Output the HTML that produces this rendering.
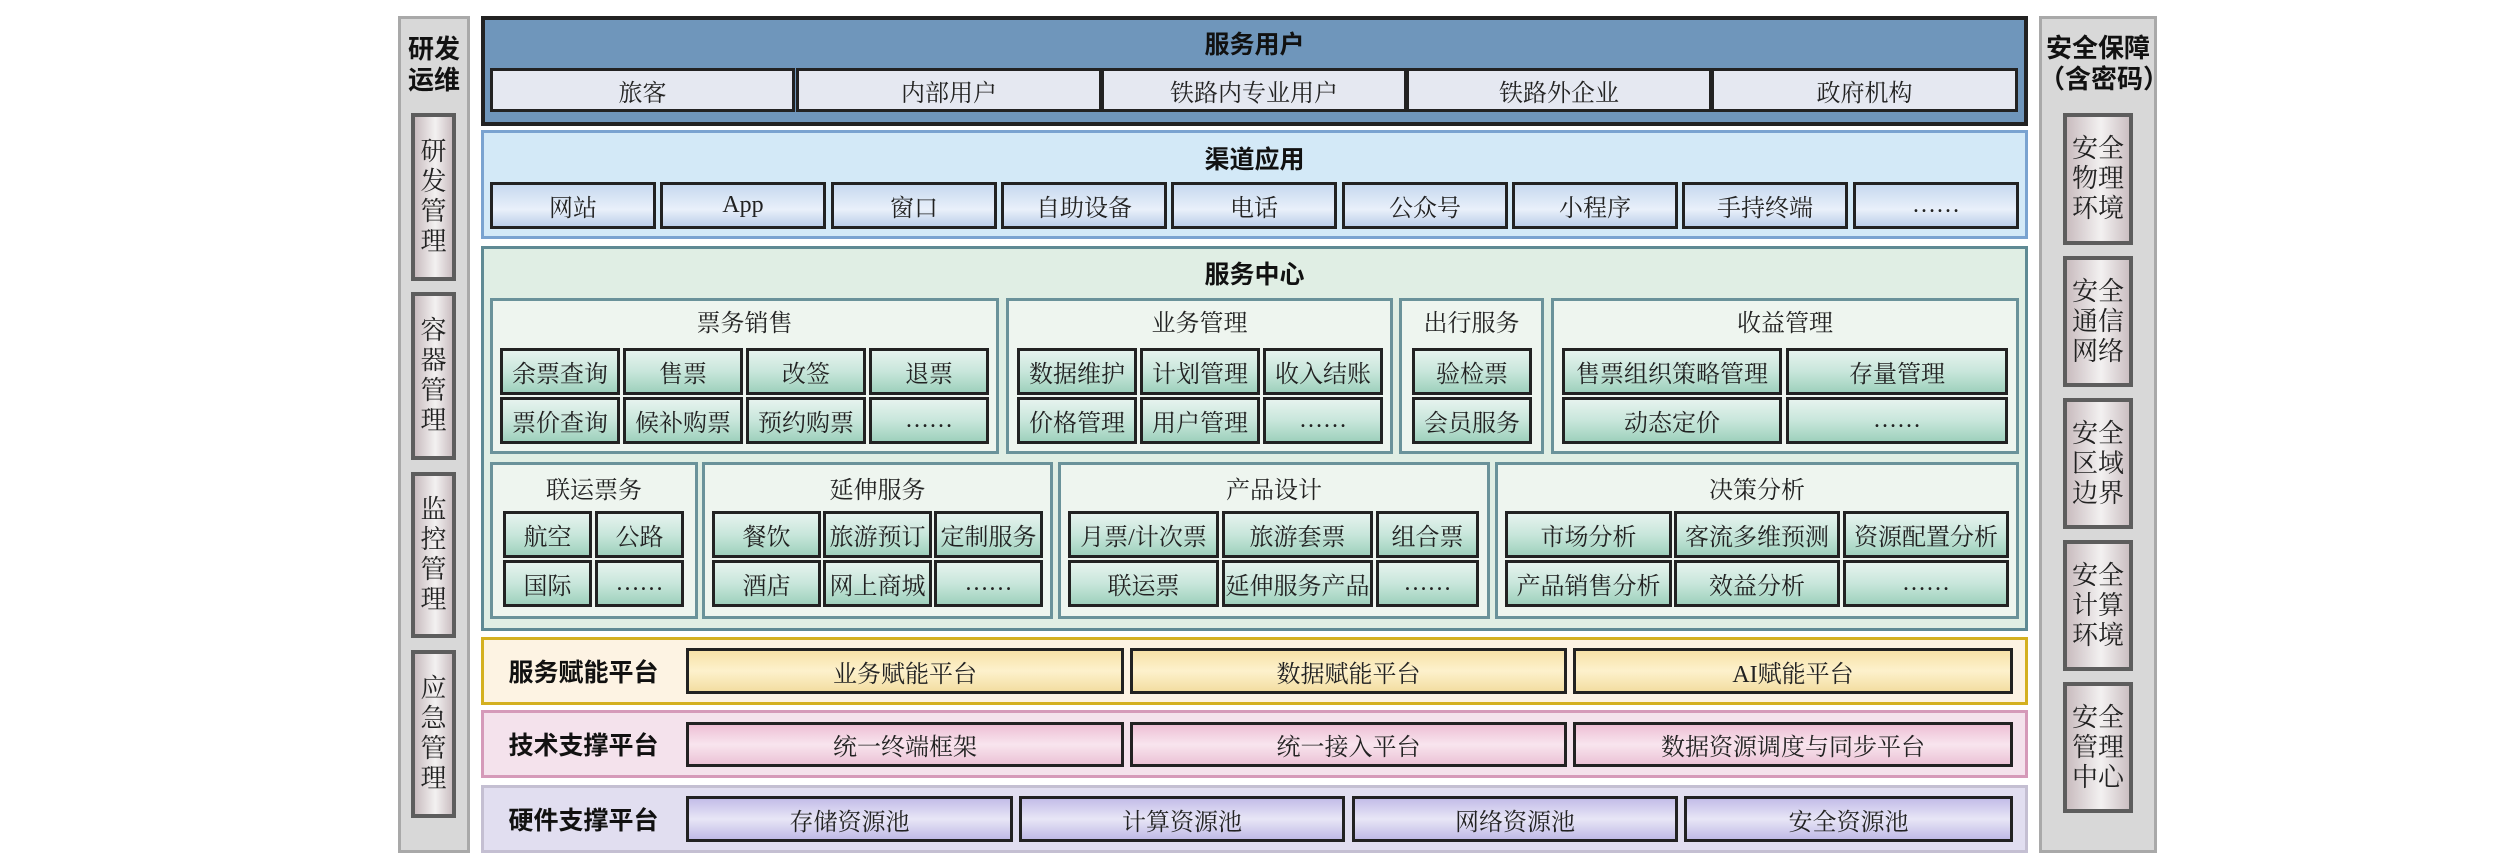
<!DOCTYPE html>
<html><head><meta charset="utf-8"><style>
*{margin:0;padding:0;box-sizing:border-box}
body{width:2520px;height:857px;background:#fff;position:relative;overflow:hidden;font-family:"Liberation Serif","Noto Serif CJK SC",serif;color:#222}
div{position:absolute}
.c{display:flex;align-items:center;justify-content:center;text-align:center;font-size:24px;white-space:nowrap}
.t{font-weight:bold;font-size:25px;font-family:"Liberation Sans","Noto Sans CJK SC",sans-serif;color:#111}
.u{background:#e5e8f1;border:3px solid #222}
.ch{background:linear-gradient(#c7d9ef,#e9f0fa 60%,#bccfea);border:3px solid #222}
.g{background:linear-gradient(#e6f3ee,#c8e6db 50%,#9fd1bd);border:3px solid #222}
.sub{background:#eef5ef;border:3px solid #6a929a}
.side{background:#d8d8d8;border:3px solid #a9a9a9}
.sb{background:linear-gradient(90deg,#c9bcbf,#f3f1f1 55%,#cbbfc2);border:4px solid #5d5d5d;font-size:26px;line-height:30px;white-space:normal;width:45px}
.y{background:linear-gradient(#f7e2a8,#fdf1cc 50%,#f3dea2);border:3px solid #222}
.p{background:linear-gradient(#eebfd5,#f8e5ee 50%,#ecc3d6);border:3px solid #222}
.v{background:linear-gradient(#c3bde8,#e8e6f6 50%,#c0bae6);border:3px solid #222}
</style></head><body>

<!-- left panel -->
<div class="side" style="left:398px;top:16px;width:72px;height:837px"></div>
<div class="c t" style="left:398px;top:30px;width:72px;height:70px;white-space:normal;line-height:31px;font-size:26px">研发<br>运维</div>
<div class="c sb" style="left:411px;top:113px;height:168px">研发管理</div>
<div class="c sb" style="left:411px;top:292px;height:168px">容器管理</div>
<div class="c sb" style="left:411px;top:472px;height:166px">监控管理</div>
<div class="c sb" style="left:411px;top:650px;height:168px">应急管理</div>

<!-- right panel -->
<div class="side" style="left:2039px;top:16px;width:118px;height:837px"></div>
<div class="c t" style="left:2039px;top:32px;width:118px;height:64px;white-space:normal;line-height:31px;font-size:26px">安全保障<br>（含密码）</div>
<div class="c sb" style="left:2063px;top:113px;width:70px;height:132px">安全物理环境</div>
<div class="c sb" style="left:2063px;top:256px;width:70px;height:131px">安全通信网络</div>
<div class="c sb" style="left:2063px;top:398px;width:70px;height:131px">安全区域边界</div>
<div class="c sb" style="left:2063px;top:540px;width:70px;height:131px">安全计算环境</div>
<div class="c sb" style="left:2063px;top:682px;width:70px;height:131px">安全管理中心</div>

<!-- users -->
<div style="left:481px;top:16px;width:1547px;height:110px;background:#6f96bb;border:4px solid #222"></div>
<div class="c t" style="left:481px;top:26px;width:1547px;height:34px">服务用户</div>
<div class="c u" style="left:490px;top:68px;width:305px;height:44px">旅客</div>
<div class="c u" style="left:796px;top:68px;width:306px;height:44px">内部用户</div>
<div class="c u" style="left:1101px;top:68px;width:306px;height:44px">铁路内专业用户</div>
<div class="c u" style="left:1406px;top:68px;width:306px;height:44px">铁路外企业</div>
<div class="c u" style="left:1711px;top:68px;width:307px;height:44px">政府机构</div>

<!-- channels -->
<div style="left:481px;top:130px;width:1547px;height:109px;background:#d3e9f7;border:3px solid #7aa3d0"></div>
<div class="c t" style="left:481px;top:141px;width:1547px;height:34px">渠道应用</div>
<div class="c ch" style="left:490px;top:182px;width:166px;height:47px">网站</div>
<div class="c ch" style="left:660px;top:182px;width:166px;height:47px">App</div>
<div class="c ch" style="left:831px;top:182px;width:166px;height:47px">窗口</div>
<div class="c ch" style="left:1001px;top:182px;width:166px;height:47px">自助设备</div>
<div class="c ch" style="left:1171px;top:182px;width:166px;height:47px">电话</div>
<div class="c ch" style="left:1342px;top:182px;width:166px;height:47px">公众号</div>
<div class="c ch" style="left:1512px;top:182px;width:166px;height:47px">小程序</div>
<div class="c ch" style="left:1682px;top:182px;width:166px;height:47px">手持终端</div>
<div class="c ch" style="left:1853px;top:182px;width:166px;height:47px">……</div>

<!-- service center -->
<div style="left:481px;top:246px;width:1547px;height:385px;background:#e0eee4;border:3px solid #5f8a94"></div>
<div class="c t" style="left:481px;top:256px;width:1547px;height:34px">服务中心</div>

<div class="sub" style="left:490px;top:298px;width:509px;height:156px"></div>
<div class="c" style="left:490px;top:303px;width:509px;height:34px">票务销售</div>
<div class="c g" style="left:500px;top:348px;width:120px;height:47px">余票查询</div>
<div class="c g" style="left:623px;top:348px;width:120px;height:47px">售票</div>
<div class="c g" style="left:746px;top:348px;width:120px;height:47px">改签</div>
<div class="c g" style="left:869px;top:348px;width:120px;height:47px">退票</div>
<div class="c g" style="left:500px;top:397px;width:120px;height:47px">票价查询</div>
<div class="c g" style="left:623px;top:397px;width:120px;height:47px">候补购票</div>
<div class="c g" style="left:746px;top:397px;width:120px;height:47px">预约购票</div>
<div class="c g" style="left:869px;top:397px;width:120px;height:47px">……</div>

<div class="sub" style="left:1006px;top:298px;width:387px;height:156px"></div>
<div class="c" style="left:1006px;top:303px;width:387px;height:34px">业务管理</div>
<div class="c g" style="left:1017px;top:348px;width:120px;height:47px">数据维护</div>
<div class="c g" style="left:1140px;top:348px;width:120px;height:47px">计划管理</div>
<div class="c g" style="left:1263px;top:348px;width:120px;height:47px">收入结账</div>
<div class="c g" style="left:1017px;top:397px;width:120px;height:47px">价格管理</div>
<div class="c g" style="left:1140px;top:397px;width:120px;height:47px">用户管理</div>
<div class="c g" style="left:1263px;top:397px;width:120px;height:47px">……</div>

<div class="sub" style="left:1399px;top:298px;width:145px;height:156px"></div>
<div class="c" style="left:1399px;top:303px;width:145px;height:34px">出行服务</div>
<div class="c g" style="left:1412px;top:348px;width:120px;height:47px">验检票</div>
<div class="c g" style="left:1412px;top:397px;width:120px;height:47px">会员服务</div>

<div class="sub" style="left:1551px;top:298px;width:468px;height:156px"></div>
<div class="c" style="left:1551px;top:303px;width:468px;height:34px">收益管理</div>
<div class="c g" style="left:1562px;top:348px;width:220px;height:47px">售票组织策略管理</div>
<div class="c g" style="left:1786px;top:348px;width:222px;height:47px">存量管理</div>
<div class="c g" style="left:1562px;top:397px;width:220px;height:47px">动态定价</div>
<div class="c g" style="left:1786px;top:397px;width:222px;height:47px">……</div>

<div class="sub" style="left:490px;top:462px;width:208px;height:157px"></div>
<div class="c" style="left:490px;top:470px;width:208px;height:34px">联运票务</div>
<div class="c g" style="left:503px;top:511px;width:89px;height:47px">航空</div>
<div class="c g" style="left:595px;top:511px;width:89px;height:47px">公路</div>
<div class="c g" style="left:503px;top:560px;width:89px;height:47px">国际</div>
<div class="c g" style="left:595px;top:560px;width:89px;height:47px">……</div>

<div class="sub" style="left:702px;top:462px;width:351px;height:157px"></div>
<div class="c" style="left:702px;top:470px;width:351px;height:34px">延伸服务</div>
<div class="c g" style="left:712px;top:511px;width:109px;height:47px">餐饮</div>
<div class="c g" style="left:823px;top:511px;width:109px;height:47px">旅游预订</div>
<div class="c g" style="left:934px;top:511px;width:109px;height:47px">定制服务</div>
<div class="c g" style="left:712px;top:560px;width:109px;height:47px">酒店</div>
<div class="c g" style="left:823px;top:560px;width:109px;height:47px">网上商城</div>
<div class="c g" style="left:934px;top:560px;width:109px;height:47px">……</div>

<div class="sub" style="left:1058px;top:462px;width:432px;height:157px"></div>
<div class="c" style="left:1058px;top:470px;width:432px;height:34px">产品设计</div>
<div class="c g" style="left:1068px;top:511px;width:151px;height:47px">月票/计次票</div>
<div class="c g" style="left:1222px;top:511px;width:151px;height:47px">旅游套票</div>
<div class="c g" style="left:1376px;top:511px;width:103px;height:47px">组合票</div>
<div class="c g" style="left:1068px;top:560px;width:151px;height:47px">联运票</div>
<div class="c g" style="left:1222px;top:560px;width:151px;height:47px">延伸服务产品</div>
<div class="c g" style="left:1376px;top:560px;width:103px;height:47px">……</div>

<div class="sub" style="left:1495px;top:462px;width:524px;height:157px"></div>
<div class="c" style="left:1495px;top:470px;width:524px;height:34px">决策分析</div>
<div class="c g" style="left:1505px;top:511px;width:167px;height:47px">市场分析</div>
<div class="c g" style="left:1674px;top:511px;width:166px;height:47px">客流多维预测</div>
<div class="c g" style="left:1843px;top:511px;width:166px;height:47px">资源配置分析</div>
<div class="c g" style="left:1505px;top:560px;width:167px;height:47px">产品销售分析</div>
<div class="c g" style="left:1674px;top:560px;width:166px;height:47px">效益分析</div>
<div class="c g" style="left:1843px;top:560px;width:166px;height:47px">……</div>

<!-- platforms -->
<div style="left:481px;top:637px;width:1547px;height:68px;background:#fdf3e3;border:3px solid #d4b020"></div>
<div class="c t" style="left:481px;top:637px;width:205px;height:68px">服务赋能平台</div>
<div class="c y" style="left:686px;top:648px;width:438px;height:46px">业务赋能平台</div>
<div class="c y" style="left:1130px;top:648px;width:437px;height:46px">数据赋能平台</div>
<div class="c y" style="left:1573px;top:648px;width:440px;height:46px">AI赋能平台</div>

<div style="left:481px;top:710px;width:1547px;height:68px;background:#f4e2ec;border:3px solid #d59ab9"></div>
<div class="c t" style="left:481px;top:710px;width:205px;height:68px">技术支撑平台</div>
<div class="c p" style="left:686px;top:722px;width:438px;height:45px">统一终端框架</div>
<div class="c p" style="left:1130px;top:722px;width:437px;height:45px">统一接入平台</div>
<div class="c p" style="left:1573px;top:722px;width:440px;height:45px">数据资源调度与同步平台</div>

<div style="left:481px;top:785px;width:1547px;height:68px;background:#e1def0;border:3px solid #c4bfd2"></div>
<div class="c t" style="left:481px;top:785px;width:205px;height:68px">硬件支撑平台</div>
<div class="c v" style="left:686px;top:796px;width:327px;height:46px">存储资源池</div>
<div class="c v" style="left:1019px;top:796px;width:326px;height:46px">计算资源池</div>
<div class="c v" style="left:1352px;top:796px;width:326px;height:46px">网络资源池</div>
<div class="c v" style="left:1684px;top:796px;width:329px;height:46px">安全资源池</div>

</body></html>
